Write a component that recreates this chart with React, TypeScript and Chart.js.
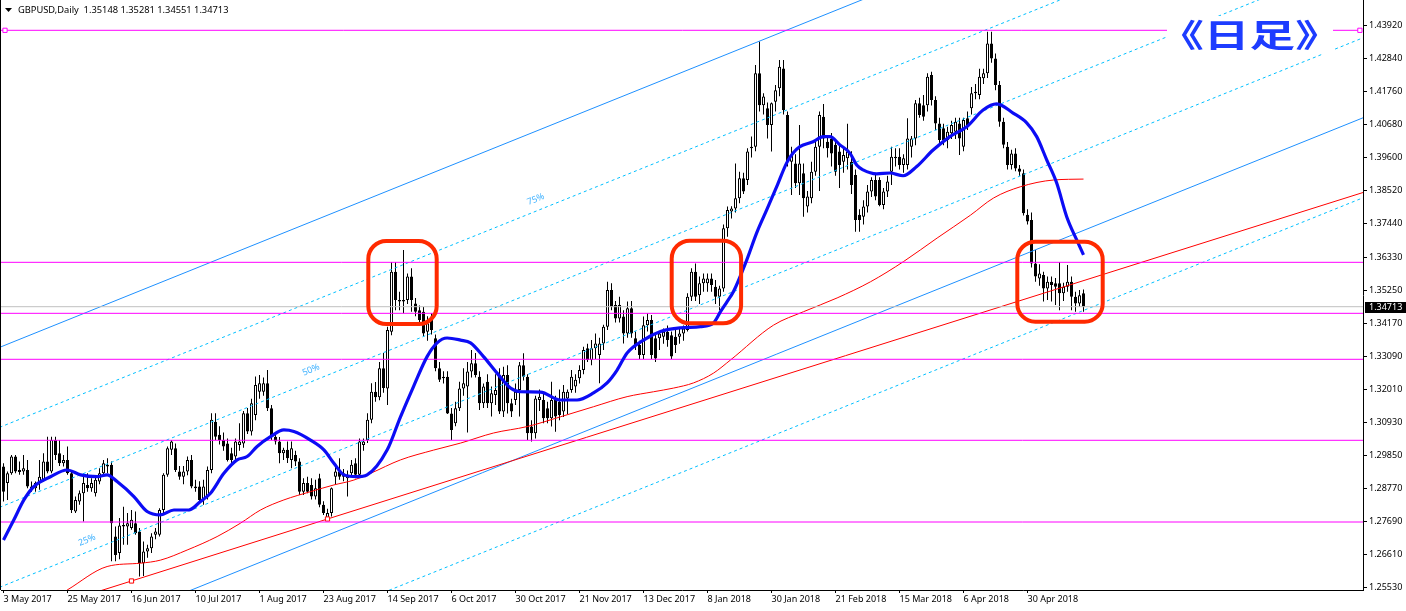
import { useEffect, useRef } from 'react';
import { Chart, registerables } from 'chart.js';

Chart.register(...registerables);

const W = 1406;
const H = 611;

// ---- Data ----
const symbolTitle = 'GBPUSD,Daily  1.35148 1.35281 1.34551 1.34713';
const lastPrice = 1.34713;

const xTickIndex = [0, 16, 32, 48, 64, 80, 96, 112, 128, 144, 160, 176, 192, 208, 224, 240, 256];
const xTickLabels = ['3 May 2017', '25 May 2017', '16 Jun 2017', '10 Jul 2017', '1 Aug 2017', '23 Aug 2017', '14 Sep 2017', '6 Oct 2017', '30 Oct 2017', '21 Nov 2017', '13 Dec 2017', '8 Jan 2018', '30 Jan 2018', '21 Feb 2018', '15 Mar 2018', '6 Apr 2018', '30 Apr 2018'];
const yTickLabels = ['1.43920', '1.42840', '1.41760', '1.40680', '1.39600', '1.38520', '1.37440', '1.36330', '1.35250', '1.34170', '1.33090', '1.32010', '1.30930', '1.29850', '1.28770', '1.27690', '1.26610', '1.25530'];

// [open, high, low, close] per daily bar, 3 May 2017 .. 18 May 2018
const candles: [number, number, number, number][] = [
  [1.2948,1.2959,1.2834,1.2866],[1.2894,1.2932,1.2839,1.2926],[1.2926,1.2986,1.2921,1.2981],[1.2981,1.2986,1.2926,1.2932],
  [1.2937,1.2965,1.2921,1.2930],[1.2932,1.2986,1.2921,1.2943],[1.2937,1.2970,1.2877,1.2883],[1.2883,1.2899,1.2866,1.2877],
  [1.2877,1.2899,1.2866,1.2894],[1.2894,1.2970,1.2872,1.2915],[1.2905,1.2992,1.2899,1.2965],[1.2965,1.3046,1.2926,1.2932],
  [1.2932,1.3046,1.2926,1.3035],[1.3035,1.3046,1.2970,1.2986],[1.2992,1.3035,1.2950,1.2959],[1.2959,1.2986,1.2948,1.2970],
  [1.2970,1.3014,1.2921,1.2926],[1.2926,1.2937,1.2796,1.2806],[1.2801,1.2850,1.2796,1.2839],[1.2834,1.2870,1.2823,1.2861],
  [1.2861,1.2926,1.2768,1.2894],[1.2888,1.2926,1.2866,1.2877],[1.2877,1.2910,1.2866,1.2894],[1.2861,1.2915,1.2850,1.2905],
  [1.2899,1.2943,1.2890,1.2926],[1.2926,1.2970,1.2915,1.2959],[1.2948,1.2975,1.2926,1.2954],[1.2954,1.2965,1.2638,1.2763],
  [1.2719,1.2752,1.2638,1.2659],[1.2665,1.2780,1.2645,1.2755],[1.2752,1.2817,1.2692,1.2757],[1.2752,1.2796,1.2692,1.2763],
  [1.2747,1.2806,1.2741,1.2774],[1.2763,1.2801,1.2725,1.2730],[1.2736,1.2747,1.2588,1.2632],[1.2632,1.2703,1.2590,1.2670],
  [1.2670,1.2692,1.2650,1.2681],[1.2681,1.2730,1.2665,1.2719],[1.2725,1.2747,1.2710,1.2736],[1.2725,1.2812,1.2719,1.2806],
  [1.2806,1.2926,1.2790,1.2921],[1.2921,1.3014,1.2915,1.3008],[1.3003,1.3035,1.2986,1.3030],[1.3008,1.3024,1.2930,1.2937],
  [1.2932,1.2950,1.2905,1.2915],[1.2915,1.2950,1.2890,1.2932],[1.2932,1.2981,1.2920,1.2970],[1.2970,1.2986,1.2877,1.2883],
  [1.2883,1.2905,1.2866,1.2877],[1.2883,1.2900,1.2834,1.2839],[1.2839,1.2905,1.2823,1.2883],[1.2850,1.2948,1.2840,1.2937],
  [1.2937,1.3123,1.2926,1.3101],[1.3095,1.3123,1.3035,1.3046],[1.3052,1.3080,1.3020,1.3035],[1.3035,1.3060,1.3000,1.3014],
  [1.3024,1.3040,1.2965,1.2970],[1.2992,1.3010,1.2950,1.2970],[1.2981,1.3040,1.2970,1.3030],[1.3019,1.3090,1.3000,1.3030],
  [1.3024,1.3130,1.3010,1.3123],[1.3123,1.3140,1.3055,1.3063],[1.3063,1.3170,1.3050,1.3155],[1.3117,1.3243,1.3100,1.3215],
  [1.3193,1.3248,1.3170,1.3221],[1.3193,1.3240,1.3180,1.3221],[1.3221,1.3264,1.3130,1.3139],[1.3139,1.3150,1.3035,1.3046],
  [1.3046,1.3060,1.3020,1.3030],[1.3030,1.3045,1.2959,1.2992],[1.2992,1.3010,1.2970,1.3003],[1.3003,1.3030,1.2960,1.2975],
  [1.2970,1.3030,1.2943,1.3008],[1.2986,1.3000,1.2950,1.2965],[1.2965,1.2975,1.2855,1.2866],[1.2866,1.2910,1.2855,1.2894],
  [1.2894,1.2915,1.2861,1.2866],[1.2888,1.2910,1.2840,1.2850],[1.2850,1.2905,1.2840,1.2877],[1.2910,1.2925,1.2815,1.2823],
  [1.2823,1.2835,1.2790,1.2796],[1.2779,1.2810,1.2770,1.2796],[1.2796,1.2880,1.2785,1.2877],[1.2915,1.2950,1.2890,1.2932],
  [1.2932,1.2975,1.2905,1.2915],[1.2926,1.2940,1.2900,1.2915],[1.2910,1.2935,1.2850,1.2921],[1.2926,1.2970,1.2915,1.2954],
  [1.2959,1.2975,1.2910,1.2921],[1.2921,1.3040,1.2915,1.3030],[1.3019,1.3040,1.3000,1.3030],[1.3035,1.3123,1.3025,1.3101],
  [1.3101,1.3221,1.3090,1.3193],[1.3193,1.3225,1.3160,1.3175],[1.3175,1.3290,1.3165,1.3270],[1.3270,1.3320,1.3190,1.3205],
  [1.3204,1.3406,1.3150,1.3395],[1.3389,1.3618,1.3378,1.3586],[1.3586,1.3618,1.3460,1.3493],[1.3488,1.3520,1.3460,1.3493],
  [1.3488,1.3657,1.3450,1.3493],[1.3493,1.3580,1.3480,1.3570],[1.3570,1.3597,1.3455,1.3493],[1.3482,1.3500,1.3440,1.3455],
  [1.3460,1.3475,1.3410,1.3428],[1.3455,1.3470,1.3373,1.3384],[1.3389,1.3440,1.3360,1.3417],[1.3439,1.3450,1.3380,1.3395],
  [1.3368,1.3380,1.3260,1.3270],[1.3270,1.3290,1.3225,1.3232],[1.3237,1.3260,1.3220,1.3242],[1.3242,1.3260,1.3120,1.3122],
  [1.3122,1.3140,1.3035,1.3068],[1.3090,1.3160,1.3080,1.3139],[1.3139,1.3226,1.3130,1.3204],[1.3204,1.3270,1.3180,1.3221],
  [1.3210,1.3290,1.3060,1.3259],[1.3259,1.3330,1.3240,1.3286],[1.3286,1.3320,1.3240,1.3248],[1.3242,1.3260,1.3133,1.3155],
  [1.3155,1.3220,1.3140,1.3210],[1.3226,1.3250,1.3140,1.3155],[1.3155,1.3210,1.3112,1.3188],[1.3182,1.3250,1.3150,1.3199],
  [1.3248,1.3270,1.3120,1.3128],[1.3128,1.3275,1.3110,1.3248],[1.3248,1.3280,1.3122,1.3155],[1.3155,1.3170,1.3110,1.3128],
  [1.3166,1.3220,1.3150,1.3193],[1.3199,1.3290,1.3112,1.3280],[1.3280,1.3319,1.3230,1.3242],[1.3242,1.3250,1.3035,1.3057],
  [1.3079,1.3100,1.3030,1.3057],[1.3057,1.3180,1.3040,1.3171],[1.3166,1.3200,1.3130,1.3177],[1.3166,1.3190,1.3090,1.3106],
  [1.3139,1.3160,1.3090,1.3106],[1.3106,1.3226,1.3079,1.3166],[1.3166,1.3180,1.3062,1.3112],[1.3160,1.3200,1.3100,1.3117],
  [1.3128,1.3215,1.3110,1.3193],[1.3171,1.3200,1.3120,1.3193],[1.3199,1.3264,1.3190,1.3242],[1.3210,1.3250,1.3190,1.3232],
  [1.3237,1.3280,1.3220,1.3264],[1.3264,1.3340,1.3250,1.3330],[1.3335,1.3350,1.3290,1.3297],[1.3297,1.3362,1.3280,1.3335],
  [1.3335,1.3384,1.3300,1.3351],[1.3313,1.3370,1.3221,1.3351],[1.3351,1.3412,1.3330,1.3406],[1.3406,1.3553,1.3395,1.3526],
  [1.3526,1.3548,1.3460,1.3471],[1.3477,1.3490,1.3420,1.3433],[1.3433,1.3504,1.3420,1.3477],[1.3439,1.3460,1.3351,1.3384],
  [1.3384,1.3488,1.3370,1.3466],[1.3466,1.3490,1.3370,1.3384],[1.3368,1.3390,1.3330,1.3346],[1.3346,1.3360,1.3300,1.3313],
  [1.3313,1.3439,1.3300,1.3411],[1.3411,1.3450,1.3390,1.3428],[1.3428,1.3444,1.3300,1.3313],[1.3368,1.3380,1.3290,1.3302],
  [1.3368,1.3390,1.3330,1.3384],[1.3373,1.3400,1.3350,1.3389],[1.3389,1.3410,1.3340,1.3362],[1.3378,1.3390,1.3300,1.3308],
  [1.3373,1.3395,1.3320,1.3346],[1.3373,1.3400,1.3350,1.3384],[1.3384,1.3410,1.3360,1.3400],[1.3395,1.3515,1.3390,1.3504],
  [1.3504,1.3597,1.3490,1.3586],[1.3586,1.3613,1.3490,1.3504],[1.3509,1.3570,1.3480,1.3548],[1.3548,1.3580,1.3520,1.3564],
  [1.3548,1.3580,1.3520,1.3564],[1.3564,1.3580,1.3520,1.3542],[1.3537,1.3559,1.3480,1.3504],[1.3504,1.3540,1.3460,1.3531],
  [1.3531,1.3740,1.3520,1.3728],[1.3728,1.3799,1.3700,1.3788],[1.3783,1.3800,1.3760,1.3793],[1.3793,1.3940,1.3780,1.3826],
  [1.3826,1.3913,1.3810,1.3892],[1.3892,1.3910,1.3840,1.3848],[1.3886,1.3990,1.3870,1.3979],[1.3990,1.4028,1.3960,1.3995],
  [1.3995,1.4262,1.3980,1.4235],[1.4235,1.4339,1.4110,1.4131],[1.4131,1.4170,1.4100,1.4159],[1.4121,1.4140,1.4022,1.4066],
  [1.4066,1.4140,1.3979,1.4137],[1.4142,1.4197,1.4110,1.4180],[1.4186,1.4279,1.4160,1.4257],[1.4251,1.4279,1.4100,1.4115],
  [1.4099,1.4110,1.3930,1.3946],[1.3946,1.3995,1.3837,1.3968],[1.3940,1.3970,1.3860,1.3875],[1.3875,1.4066,1.3837,1.3940],
  [1.3908,1.3940,1.3766,1.3826],[1.3799,1.3850,1.3780,1.3832],[1.3826,1.3946,1.3810,1.3913],[1.3913,1.4010,1.3900,1.3995],
  [1.3995,1.4110,1.3850,1.4099],[1.4093,1.4135,1.3990,1.4022],[1.4011,1.4030,1.3960,1.3990],[1.4022,1.4040,1.3930,1.3973],
  [1.4001,1.4010,1.3900,1.3913],[1.3979,1.4000,1.3860,1.3935],[1.3946,1.3990,1.3910,1.3968],[1.3957,1.4070,1.3920,1.3979],
  [1.3946,1.3980,1.3840,1.3870],[1.3902,1.3920,1.3717,1.3755],[1.3772,1.3790,1.3717,1.3755],[1.3766,1.3820,1.3740,1.3799],
  [1.3799,1.3870,1.3780,1.3848],[1.3848,1.3895,1.3830,1.3886],[1.3886,1.3902,1.3820,1.3832],[1.3886,1.3895,1.3800,1.3804],
  [1.3804,1.3860,1.3790,1.3848],[1.3848,1.3900,1.3830,1.3881],[1.3913,1.3995,1.3870,1.3962],[1.3957,1.3990,1.3930,1.3962],
  [1.3962,1.3990,1.3920,1.3935],[1.3935,1.3970,1.3910,1.3957],[1.3935,1.4088,1.3920,1.4022],[1.3995,1.4030,1.3960,1.4022],
  [1.4022,1.4148,1.4000,1.4137],[1.4137,1.4155,1.4090,1.4099],[1.4131,1.4164,1.4080,1.4093],[1.4131,1.4235,1.4110,1.4224],
  [1.4230,1.4240,1.4130,1.4148],[1.4148,1.4160,1.4050,1.4071],[1.4071,1.4090,1.4000,1.4017],[1.4055,1.4070,1.4000,1.4017],
  [1.4017,1.4060,1.3990,1.4044],[1.4039,1.4080,1.4020,1.4066],[1.4044,1.4090,1.4020,1.4077],[1.4071,1.4090,1.3968,1.4022],
  [1.3995,1.4090,1.3980,1.4082],[1.4088,1.4110,1.4050,1.4066],[1.4121,1.4190,1.4100,1.4170],[1.4175,1.4200,1.4150,1.4170],
  [1.4164,1.4250,1.4150,1.4224],[1.4219,1.4250,1.4200,1.4235],[1.4235,1.4371,1.4220,1.4333],[1.4333,1.4371,1.4270,1.4284],
  [1.4284,1.4300,1.4180,1.4197],[1.4197,1.4210,1.4060,1.4077],[1.4077,1.4090,1.3990,1.4001],[1.3995,1.4010,1.3920,1.3935],
  [1.3935,1.3985,1.3920,1.3973],[1.3973,1.3990,1.3915,1.3924],[1.3924,1.3935,1.3900,1.3913],[1.3908,1.3920,1.3770,1.3777],
  [1.3772,1.3790,1.3740,1.3750],[1.3755,1.3780,1.3600,1.3613],[1.3613,1.3657,1.3553,1.3570],[1.3564,1.3610,1.3540,1.3580],
  [1.3575,1.3586,1.3488,1.3531],[1.3531,1.3570,1.3493,1.3553],[1.3553,1.3570,1.3488,1.3542],[1.3548,1.3565,1.3477,1.3537],
  [1.3548,1.3618,1.3460,1.3515],[1.3515,1.3550,1.3490,1.3537],[1.3537,1.3608,1.3520,1.3553],[1.3553,1.3570,1.3460,1.3504],
  [1.3504,1.3520,1.3455,1.3482],[1.3482,1.3526,1.3470,1.3509],[1.3515,1.3528,1.3455,1.3471],
];

// Thick blue moving average, read at [bar index, price]
const blueMA: [number, number][] = [
  [0,1.2708],[2.6,1.2774],[5.1,1.2839],[7.6,1.2883],[11.75,1.2915],[15.9,1.2937],[19.25,1.2921],[23.4,1.2915],
  [25.9,1.2921],[28.4,1.2899],[32.6,1.2850],[35.9,1.2801],[39.25,1.2790],[42.6,1.2806],[46.3,1.2806],[49.25,1.2834],
  [51.75,1.2861],[55.1,1.2926],[58.4,1.2970],[60.9,1.2981],[63.4,1.3014],[66.75,1.3046],[70.1,1.3068],[72.6,1.3063],
  [76.75,1.3035],[80.1,1.3003],[82.6,1.2959],[85.1,1.2921],[88.4,1.2915],[90.9,1.2921],[95.9,1.3002],[99.25,1.3111],
  [102.5,1.3210],[105.9,1.3308],[108.4,1.3353],[110.9,1.3369],[114.25,1.3362],[116.75,1.3353],[120,1.3308],[123.4,1.3254],
  [126.75,1.3205],[129.25,1.3193],[134.25,1.3192],[139.25,1.3166],[143.4,1.3166],[147.5,1.3189],[150.9,1.3222],[153.4,1.3264],
  [155.9,1.3320],[160,1.3362],[164.25,1.3390],[169.25,1.3402],[174.25,1.3406],[177.5,1.3418],[179.25,1.3455],[180.9,1.3488],
  [182.5,1.3521],[185.8,1.3624],[188.3,1.3713],[190.8,1.3788],[193.3,1.3864],[195.8,1.3942],[197.4,1.3974],[199.1,1.3995],
  [202.4,1.4011],[204.9,1.4028],[206.6,1.4028],[209.1,1.4001],[211.6,1.3974],[213.3,1.3935],[214.9,1.3919],[218.3,1.3906],
  [221.6,1.3909],[224.9,1.3900],[228.3,1.3930],[232.4,1.3984],[236.6,1.4028],[240.8,1.4060],[244.9,1.4115],[248.3,1.4135],
  [252.4,1.4105],[255.8,1.4073],[258.3,1.4028],[260.8,1.3952],[263.3,1.3876],[265.8,1.3766],[268.3,1.3690],[270,1.3641],
];

// Thin red long moving average, read at [bar index, price]
const redMA: [number, number][] = [
  [15.9,1.2544],[25.9,1.2621],[34.25,1.2632],[39.25,1.2642],[45.9,1.2675],[53.4,1.2719],[59.25,1.2763],[64.25,1.2806],
  [70.1,1.2839],[76.75,1.2866],[82.6,1.2888],[87.6,1.2904],[91.75,1.2926],[99.25,1.2970],[107.5,1.3002],[114.25,1.3025],
  [122.5,1.3058],[130.9,1.3079],[139.25,1.3111],[147.5,1.3144],[155.9,1.3177],[162.5,1.3193],[167.5,1.3205],[172.5,1.3222],
  [177.5,1.3254],[181.75,1.3297],[192.5,1.3411],[200,1.3455],[208.4,1.3500],[216.75,1.3553],[225,1.3619],[233.4,1.3696],
  [241.75,1.3771],[247.5,1.3827],[254.25,1.3864],[262.5,1.3886],[270,1.3889],
];

// Channel: base line (0%) from bar -1 to bar 340, and channel height
const channelBase: [number, number][] = [[-1, 1.22911], [340, 1.40902]];
const channelHeight = 0.1047;
const channelSolidLevels = [0, 1];
const channelDotLevels = [-0.25, 0.25, 0.5, 0.75];
const channelLabels = ['25%', '50%', '75%'];
const channelLabelLevels = [0.25, 0.5, 0.75];
const channelLabelBars = [21.9, 77.9, 134.1];

// Red trend line with two anchor points
const redTrend: [number, number][] = [[-1, 1.24375], [32, 1.25737], [81, 1.27766], [340, 1.38456]];

// Horizontal levels
const magentaLevels = [1.43759, 1.36166, 1.34497, 1.32992, 1.30341, 1.27667];

// Highlight boxes: [bar from, bar to, price top, price bottom]
const highlightBoxes: [number, number, number, number][] = [
  [91.2, 108.3, 1.36864, 1.34147],
  [167.05, 184.4, 1.36874, 1.34170],
  [253.45, 274.8, 1.36841, 1.34223],
];

const stampText = '《日足》';

// ---- scale ranges ----
const X_MIN = -0.625;
const X_MAX = 339.875;
const Y_MIN = 1.25442;
const Y_MAX = 1.44751;

const FONT = '"Noto Sans", "DejaVu Sans", sans-serif';

function lineAt(level: number, bar: number) {
  const [a, b] = channelBase;
  const slope = (b[1] - a[1]) / (b[0] - a[0]);
  return a[1] + (bar - a[0]) * slope + level * channelHeight;
}

function buildConfig(): any {
  const bodies = candles.map((c, i) => ({ x: i, y: [c[0], c[3]] }));
  const wicks = candles.map((c, i) => ({ x: i, y: [c[2], c[1]] }));
  const bodyColors = candles.map((c) => (c[3] >= c[0] ? '#ffffff' : '#000000'));

  const datasets: any[] = [];
  datasets.push({
    type: 'bar', label: 'wicks', data: wicks, backgroundColor: '#000', borderWidth: 0,
    barThickness: 1, grouped: false, inflateAmount: 0, order: 101,
  });
  datasets.push({
    type: 'bar', label: 'bodies', data: bodies, backgroundColor: bodyColors, borderColor: '#000',
    borderWidth: 1, borderSkipped: false, barThickness: 3, grouped: false, inflateAmount: 0,
    minBarLength: 1, order: 100,
  });

  const lineBase = { type: 'line', pointRadius: 0, fill: false, tension: 0, spanGaps: true };

  channelDotLevels.forEach((lv) => {
    datasets.push({
      ...lineBase, label: 'dot' + lv,
      data: channelBase.map((p) => ({ x: p[0], y: lineAt(lv, p[0]) })),
      borderColor: '#00bfff', borderWidth: 1, borderDash: [3, 3], order: 20,
    });
  });
  channelSolidLevels.forEach((lv) => {
    datasets.push({
      ...lineBase, label: 'solid' + lv,
      data: channelBase.map((p) => ({ x: p[0], y: lineAt(lv, p[0]) })),
      borderColor: '#1e90ff', borderWidth: 1, order: 19,
    });
  });

  datasets.push({
    ...lineBase, label: 'redMA', data: redMA.map((p) => ({ x: p[0], y: p[1] })),
    borderColor: '#ff0000', borderWidth: 1, cubicInterpolationMode: 'monotone', order: 18,
  });

  datasets.push({
    ...lineBase, label: 'redTrend', data: redTrend.map((p) => ({ x: p[0], y: p[1] })),
    borderColor: '#ff0000', borderWidth: 1, order: 17,
    pointRadius: redTrend.map((_, i) => (i === 1 || i === 2 ? 3 : 0)),
    pointStyle: 'rect', pointBackgroundColor: '#ffffff', pointBorderColor: '#ff0000', pointBorderWidth: 1,
  });

  datasets.push({
    ...lineBase, label: 'bid', data: [{ x: X_MIN, y: lastPrice }, { x: X_MAX, y: lastPrice }],
    borderColor: '#c0c0c0', borderWidth: 1, order: 16,
  });

  magentaLevels.forEach((lv, k) => {
    const pts = k === 0
      ? [{ x: X_MIN, y: lv }, { x: 0.375, y: lv }, { x: 339.1, y: lv }]
      : [{ x: X_MIN, y: lv }, { x: X_MAX, y: lv }];
    datasets.push({
      ...lineBase, label: 'h' + k, data: pts, borderColor: '#ff00ff', borderWidth: 1, order: 15,
      pointRadius: k === 0 ? [0, 3, 3] : 0, pointStyle: 'rect',
      pointBackgroundColor: '#ffffff', pointBorderColor: '#ff00ff', pointBorderWidth: 1,
    });
  });

  datasets.push({
    ...lineBase, label: 'blueMA', data: blueMA.map((p) => ({ x: p[0], y: p[1] })),
    borderColor: '#0c0cf5', borderWidth: 3.2, cubicInterpolationMode: 'monotone', order: 5,
  });

  const overlay = {
    id: 'overlay',
    afterDatasetsDraw(chart: any) {
      const { ctx, scales } = chart;
      const xs = scales.x;
      const ys = scales.y;
      // channel percentage labels
      ctx.save();
      ctx.font = '9px ' + FONT;
      ctx.fillStyle = '#3cb0ff';
      ctx.textAlign = 'center';
      ctx.textBaseline = 'middle';
      channelLabels.forEach((t, k) => {
        const b = channelLabelBars[k];
        const lv = channelLabelLevels[k];
        const x0 = xs.getPixelForValue(b);
        const y0 = ys.getPixelForValue(lineAt(lv, b));
        const x1 = xs.getPixelForValue(b + 10);
        const y1 = ys.getPixelForValue(lineAt(lv, b + 10));
        const ang = Math.atan2(y1 - y0, x1 - x0);
        ctx.save();
        ctx.translate(x0, y0);
        ctx.rotate(ang);
        ctx.fillText(t, 0, -11);
        ctx.restore();
      });
      ctx.restore();

      // highlight boxes
      ctx.save();
      ctx.strokeStyle = '#ff2a00';
      ctx.lineWidth = 4;
      highlightBoxes.forEach((bx) => {
        const l = xs.getPixelForValue(bx[0]);
        const r = xs.getPixelForValue(bx[1]);
        const t = ys.getPixelForValue(bx[2]);
        const b = ys.getPixelForValue(bx[3]);
        ctx.beginPath();
        if (ctx.roundRect) ctx.roundRect(l, t, r - l, b - t, 18);
        else ctx.rect(l, t, r - l, b - t);
        ctx.stroke();
      });
      ctx.restore();

      // stamp text, fitted to its box
      ctx.save();
      ctx.fillStyle = '#ffffff';
      ctx.fillRect(1167, 16, 166, 38);
      ctx.font = 'bold 34px "Noto Sans CJK JP", "Noto Sans CJK SC", sans-serif';
      ctx.textBaseline = 'alphabetic';
      ctx.textAlign = 'left';
      const m = ctx.measureText(stampText);
      const inkW = m.actualBoundingBoxLeft + m.actualBoundingBoxRight;
      const inkH = m.actualBoundingBoxAscent + m.actualBoundingBoxDescent;
      ctx.translate(1181, 19);
      ctx.scale(137 / inkW, 32 / inkH);
      ctx.fillStyle = '#1d3cff';
      ctx.fillText(stampText, m.actualBoundingBoxLeft, m.actualBoundingBoxAscent);
      ctx.restore();

      // title
      ctx.save();
      ctx.fillStyle = '#000';
      ctx.beginPath();
      ctx.moveTo(5, 8);
      ctx.lineTo(12, 8);
      ctx.lineTo(8.5, 12);
      ctx.closePath();
      ctx.fill();
      ctx.font = '9.3px ' + FONT;
      ctx.textBaseline = 'middle';
      ctx.textAlign = 'left';
      ctx.fillText(symbolTitle, 18, 10.5);
      ctx.restore();
    },
    afterDraw(chart: any) {
      const { ctx, scales, chartArea } = chart;
      const ys = scales.y;
      const y = ys.getPixelForValue(lastPrice);
      ctx.save();
      ctx.fillStyle = '#000';
      ctx.fillRect(chartArea.right + 2, Math.round(y) - 5, W - chartArea.right - 2, 11);
      ctx.fillStyle = '#fff';
      ctx.font = '9px ' + FONT;
      ctx.textBaseline = 'middle';
      ctx.textAlign = 'left';
      ctx.fillText(lastPrice.toFixed(5), chartArea.right + 6, Math.round(y) + 0.5);
      // left border
      ctx.strokeStyle = '#000';
      ctx.lineWidth = 1;
      ctx.beginPath();
      ctx.moveTo(0.5, 0);
      ctx.lineTo(0.5, chartArea.bottom);
      ctx.stroke();
      ctx.restore();
    },
  };

  return {
    type: 'bar',
    data: { datasets },
    plugins: [overlay],
    options: {
      responsive: false,
      maintainAspectRatio: false,
      devicePixelRatio: 1,
      animation: false,
      events: [],
      layout: { autoPadding: false, padding: { left: 1, top: 0, right: 0, bottom: 0 } },
      plugins: { legend: { display: false }, tooltip: { enabled: false }, title: { display: false } },
      scales: {
        x: {
          type: 'linear', position: 'bottom', min: X_MIN, max: X_MAX, offset: false,
          border: { display: true, color: '#000', width: 1 },
          grid: { display: true, drawOnChartArea: false, drawTicks: true, tickLength: 3, color: '#000', offset: false },
          ticks: {
            autoSkip: false, maxRotation: 0, minRotation: 0, align: 'start', padding: 1, color: '#000',
            font: { family: FONT, size: 9 },
            callback: (_v: any, idx: number) => xTickLabels[idx],
          },
          afterBuildTicks: (s: any) => { s.ticks = xTickIndex.map((v) => ({ value: v })); },
          afterFit: (s: any) => { s.height = 21; s.paddingLeft = 0; s.paddingRight = 0; },
        },
        y: {
          type: 'linear', position: 'right', min: Y_MIN, max: Y_MAX,
          border: { display: true, color: '#000', width: 1 },
          grid: { display: true, drawOnChartArea: false, drawTicks: true, tickLength: 4, color: '#000' },
          ticks: {
            autoSkip: false, padding: 2, color: '#000', font: { family: FONT, size: 9 },
            callback: (v: any) => Number(v).toFixed(5),
          },
          afterBuildTicks: (s: any) => { s.ticks = yTickLabels.map((t) => ({ value: parseFloat(t) })); },
          afterFit: (s: any) => { s.width = 43; s.paddingTop = 0; s.paddingBottom = 0; },
        },
      },
    },
  };
}

export default function App() {
  const ref = useRef<HTMLCanvasElement>(null);
  useEffect(() => {
    document.body.style.margin = '0';
    const chart = new Chart(ref.current as HTMLCanvasElement, buildConfig());
    return () => chart.destroy();
  }, []);
  return (
    <div style={{ width: W, height: H, background: '#fff', position: 'relative' }}>
      <canvas ref={ref} width={W} height={H} style={{ display: 'block', width: W, height: H }} />
    </div>
  );
}
